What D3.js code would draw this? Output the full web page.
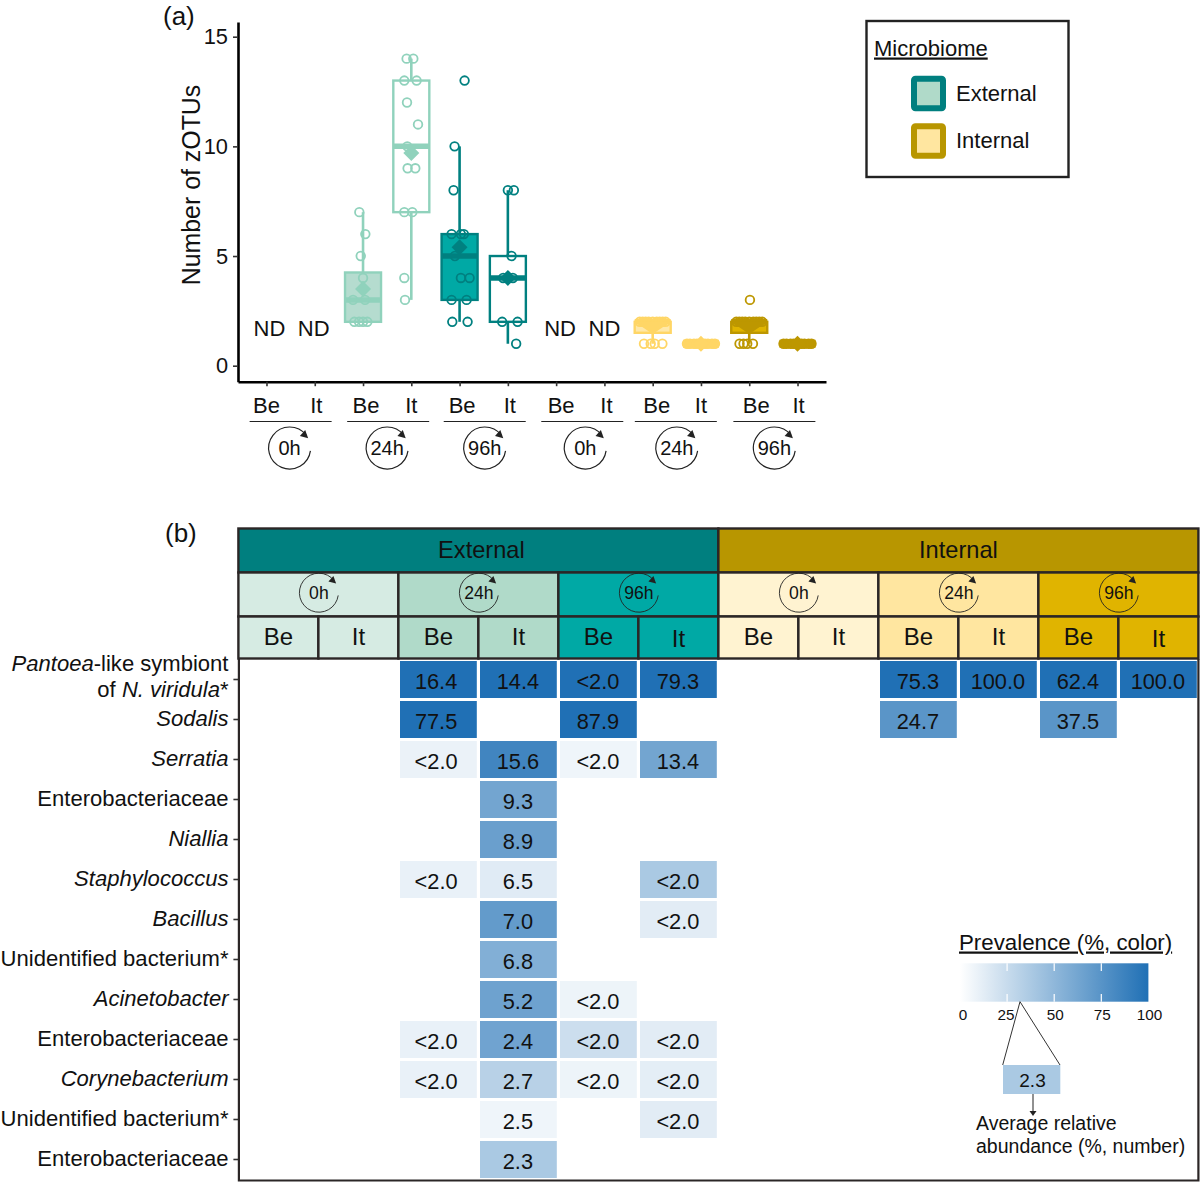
<!DOCTYPE html>
<html><head><meta charset="utf-8">
<script src="https://cdn.jsdelivr.net/npm/d3@7"></script>
<style>
html,body{margin:0;padding:0;background:#fff}
svg{display:block}
text{font-family:"Liberation Sans",Arial,sans-serif;fill:#111}
</style></head><body><svg id="c" width="1200" height="1182"></svg>
<script>
// ---------- panel (a) data ----------
const groups = ["E0Be","E0It","E24Be","E24It","E96Be","E96It","I0Be","I0It","I24Be","I24It","I96Be","I96It"];
const tissue = ["Be","It","Be","It","Be","It","Be","It","Be","It","Be","It"];
const times = ["0h","24h","96h","0h","24h","96h"];
const yTicks = [0,5,10,15];
const notDetected = ["E0Be","E0It","I0Be","I0It"];
const boxGroups = ["E24Be","E24It","E96Be","E96It","I24Be","I24It","I96Be","I96It"];
const q1 =      [2,   7,  3, 2, 1.5, 1, 1.5, 1];
const medians = [3,  10,  5, 4, 2,   1, 2,   1];
const q3 =      [4.25,13, 6, 5, 2,   1, 2,   1];
const whiskLo = [2,   3,  2, 1, 1,   1, 1,   1];
const whiskHi = [7,  14, 10, 8, 2,   1, 2,   1];
const means =   [3.5,9.7,5.4,4, 1.7, 1, 1.7, 1];
const strokes = ["#90d2bc","#90d2bc","#008080","#008080","#ffd666","#ffd666","#bd9700","#bd9700"];
const fills =   ["#b5dccf","#ffffff","#00a9a5","#ffffff","#ffe8a8","#ffd666","#dfb400","#bd9700"];
// observed counts, and horizontal jitter of each observation
const obsE24Be = [7,6,5,4,3,3,2,2,2,2];
const jitE24Be = [-3.7,2.3,-2.3,0,-10,2,-8.7,-4,0,4.3];
const obsE24It = [14,14,13,13,12,11,10,9,9,7,7,4,3];
const jitE24It = [-4.7,2,-7,5.3,-4.3,6.7,-4,-3.7,4,-7,1,-7,-6.3];
const obsE96Be = [13,10,8,6,6,6,5,4,4,3,3,2,2];
const jitE96Be = [5,-5,-6,-8,1.3,4.3,-4.7,1.3,10,-8,7,-7.3,8];
const obsE96It = [8,8,5,4,4,4,2,2,1];
const jitE96It = [0,6,3.7,-4.7,0,5,-5.7,9.7,8.3];
const obsI24Be = [2,2,2,2,2,2,2,2,2,1,1,1,1];
const jitI24Be = [-13,-10,-7,-4,0,4,7,10,13,-8.7,-2,2,9.7];
const obsI24It = [1,1,1,1,1,1,1,1,1];
const jitI24It = [-14,-11,-7,-4,0,4,7,11,14];
const obsI96Be = [3,2,2,2,2,2,2,2,2,2,1,1,1,1];
const jitI96Be = [0.7,-13,-10,-7,-4,0,4,7,10,13,-9.7,-5.7,-2,3.7];
const obsI96It = [1,1,1,1,1,1,1,1,1];
const jitI96It = [-14,-11,-7,-4,0,4,7,11,14];
const observations = [obsE24Be,obsE24It,obsE96Be,obsE96It,obsI24Be,obsI24It,obsI96Be,obsI96It];
const jitters = [jitE24Be,jitE24It,jitE96Be,jitE96It,jitI24Be,jitI24It,jitI96Be,jitI96It];

// ---------- panel (b) data ----------
const rowNames = ["Pantoea","Sodalis","Serratia","Entero1","Niallia","Staphylococcus","Bacillus","Unid1","Acinetobacter","Entero2","Corynebacterium","Unid2","Entero3"];
const rowLabels = ["","Sodalis","Serratia","Enterobacteriaceae","Niallia","Staphylococcus","Bacillus","Unidentified bacterium*","Acinetobacter","Enterobacteriaceae","Corynebacterium","Unidentified bacterium*","Enterobacteriaceae"];
const rowItalic = [0,1,1,0,1,1,1,0,1,0,1,0,0];
const abundance = [
 [null,null,"16.4","14.4","<2.0","79.3",null,null,"75.3","100.0","62.4","100.0"],
 [null,null,"77.5",null,"87.9",null,null,null,"24.7",null,"37.5",null],
 [null,null,"<2.0","15.6","<2.0","13.4",null,null,null,null,null,null],
 [null,null,null,"9.3",null,null,null,null,null,null,null,null],
 [null,null,null,"8.9",null,null,null,null,null,null,null,null],
 [null,null,"<2.0","6.5",null,"<2.0",null,null,null,null,null,null],
 [null,null,null,"7.0",null,"<2.0",null,null,null,null,null,null],
 [null,null,null,"6.8",null,null,null,null,null,null,null,null],
 [null,null,null,"5.2","<2.0",null,null,null,null,null,null,null],
 [null,null,"<2.0","2.4","<2.0","<2.0",null,null,null,null,null,null],
 [null,null,"<2.0","2.7","<2.0","<2.0",null,null,null,null,null,null],
 [null,null,null,"2.5",null,"<2.0",null,null,null,null,null,null],
 [null,null,null,"2.3",null,null,null,null,null,null,null,null]
];
const prevalence = [
 [0,0,100,100,100,100,0,0,100,100,100,100],
 [0,0,100,0,100,0,0,0,74,0,74,0],
 [0,0,9,85,7,63,0,0,0,0,0,0],
 [0,0,0,63,0,0,0,0,0,0,0,0],
 [0,0,0,67,0,0,0,0,0,0,0,0],
 [0,0,10,14,0,38,0,0,0,0,0,0],
 [0,0,0,70,0,13,0,0,0,0,0,0],
 [0,0,0,56,0,0,0,0,0,0,0,0],
 [0,0,0,65,8,0,0,0,0,0,0,0],
 [0,0,10,64,23,13,0,0,0,0,0,0],
 [0,0,10,32,8,12,0,0,0,0,0,0],
 [0,0,0,7,0,13,0,0,0,0,0,0],
 [0,0,0,38,0,0,0,0,0,0,0,0]
];
const microbiomes = ["External","Internal"];
const headerTimeFill = ["#d6ebe3","#b0dac9","#00a9a5","#fff3d1","#ffe6a0","#e0b400"];
const headerFill = ["#007f7f","#b89600"];
const prevTicks = [0,25,50,75,100];
const exampleValue = "2.3", examplePrev = 38;

// ---------- drawing ----------
const svg = d3.select("#c");
function T(g,x,y,s,size,anchor){
  return g.append("text").attr("x",x).attr("y",y).attr("font-size",size).attr("text-anchor",anchor||"middle").text(s);
}
function clock(g,cx,cy,r,label,fs,sw){
  const a0=98*Math.PI/180,a1=(360+52)*Math.PI/180;
  const n=d3.path();
  n.arc(cx,cy,r,a0-Math.PI/2,a1-Math.PI/2,false);
  g.append("path").attr("d",n.toString()).attr("fill","none").attr("stroke","#222").attr("stroke-width",sw);
  const tipA=62*Math.PI/180, tx=cx+r*Math.sin(tipA), ty=cy-r*Math.cos(tipA);
  const headA=42*Math.PI/180, dx=Math.cos(headA), dy=Math.sin(headA), h=r*0.36, w=r*0.19;
  g.append("path").attr("d",`M${tx},${ty}L${tx-h*dx-w*dy},${ty-h*dy+w*dx}L${tx-h*dx+w*dy},${ty-h*dy-w*dx}Z`).attr("fill","#222");
  T(g,cx,cy+fs*0.36,label,fs);
}

// panel a
const pa = svg.append("g");
T(pa,163,25,"(a)",26,"start");
const y = d3.scaleLinear().domain([-0.73,15.67]).range([381.7,22]);
const x = d3.scalePoint().domain(groups).range([238,826]).padding(0.59);
const yAx = pa.append("g").attr("transform","translate(238,0)").call(d3.axisLeft(y).tickValues(yTicks).tickSize(5).tickSizeOuter(0).tickPadding(5));
const xAx = pa.append("g").attr("transform","translate(0,381.7)").call(d3.axisBottom(x).tickSize(4.5).tickSizeOuter(0).tickFormat(""));
[yAx,xAx].forEach(a=>{
  a.select(".domain").attr("stroke","#000").attr("stroke-width",2.6);
  a.selectAll(".tick line").attr("stroke","#333").attr("stroke-width",1.6);
});
yAx.selectAll(".tick text").attr("font-size",21.8).attr("fill","#222").attr("font-family","Liberation Sans");
pa.append("text").attr("transform","translate(200,185) rotate(-90)").attr("text-anchor","middle").attr("font-size",24.9).text("Number of zOTUs");

notDetected.forEach((g,i)=>T(pa,x(g)+[3,-1,4,0][i],335.5,"ND",22));

const boxW = 36;
boxGroups.forEach((g,i)=>{
  const cx=x(g), col=strokes[i], gg=pa.append("g");
  const flat=q1[i]===q3[i], collapsed=q3[i]===medians[i];
  gg.append("line").attr("x1",cx).attr("x2",cx).attr("y1",y(whiskLo[i])).attr("y2",y(whiskHi[i])).attr("stroke",col).attr("stroke-width",2.6);
  gg.append("rect").attr("x",cx-boxW/2).attr("width",boxW).attr("y",y(q3[i])).attr("height",y(q1[i])-y(q3[i])).attr("fill",fills[i]).attr("stroke",col).attr("stroke-width",2.4);
  gg.append("line").attr("x1",cx-boxW/2).attr("x2",cx+boxW/2).attr("y1",y(medians[i])).attr("y2",y(medians[i])).attr("stroke",col).attr("stroke-width",flat?8:5.5);
  observations[i].forEach((v,k)=>{
    gg.append("circle").attr("cx",cx+jitters[i][k]).attr("cy",y(v)).attr("r",4.3).attr("fill","none").attr("stroke",col).attr("stroke-width",1.8);
  });
  if(collapsed && !flat){
    // median sits on the box top: the mean marker merges with it into a wedge
    gg.append("path").attr("d",`M${cx-boxW/2},${y(medians[i])}L${cx+boxW/2},${y(medians[i])}L${cx+2},${y(q1[i])}L${cx-2},${y(q1[i])}Z`).attr("fill",col);
  } else {
    gg.append("path").attr("transform",`translate(${cx},${y(means[i])})`).attr("d","M0,-8L8,0L0,8L-8,0Z").attr("fill",col);
  }
});

const labelNudge=[0,1.5,3,0,2.5,2,5,2,4,0,7,1];
groups.forEach((g,i)=>T(pa,x(g)+labelNudge[i],412.5,tissue[i],22));
const lineNudge=[0,1,1,2,-1,1], clockNudge=[-1,0,1,5,0,1];
times.forEach((t,i)=>{
  const m=(x(groups[i*2])+x(groups[i*2+1]))/2;
  pa.append("line").attr("x1",m+lineNudge[i]-41).attr("x2",m+lineNudge[i]+41).attr("y1",421.5).attr("y2",421.5).attr("stroke","#222").attr("stroke-width",1.2);
  clock(pa,m+clockNudge[i],448,21,t,20,1.2);
});

// microbiome legend
const lg=svg.append("g");
lg.append("rect").attr("x",866.5).attr("y",21).attr("width",202).attr("height",156).attr("fill","#fff").attr("stroke","#222").attr("stroke-width",2.4);
T(lg,874,55.5,"Microbiome",22,"start").attr("text-decoration","underline");
microbiomes.forEach((m,i)=>{
  const yy=[78.7,126.3][i];
  lg.append("rect").attr("x",914).attr("y",yy).attr("width",29).attr("height",29.5).attr("rx",1.5).attr("fill",[ "#b0dac9","#ffe6a0"][i]).attr("stroke",headerFill[i]).attr("stroke-width",6);
  T(lg,956,yy+22,m,22,"start");
});

// panel b
const pb=svg.append("g");
T(pb,165,541.5,"(b)",26,"start");
const hdrX=d3.scaleBand().domain(groups).range([238.4,1198.4]);
const cellX=d3.scaleBand().domain(groups).range([238.4,1198.4]).paddingInner(0.04).paddingOuter(0.02);
const rowY=d3.scaleBand().domain(rowNames).range([659.5,1179.5]).paddingInner(0.075).paddingOuter(0.0375);
const color=d3.scaleLinear().domain([0,100]).range(["#ffffff","#2070b5"]);
const STK="#2b2626";

// heat cells
rowNames.forEach((r,ri)=>groups.forEach((g,ci)=>{
  const v=abundance[ri][ci];
  if(v===null) return;
  pb.append("rect").attr("x",cellX(g)).attr("y",rowY(r)).attr("width",cellX.bandwidth()).attr("height",rowY.bandwidth()).attr("fill",color(prevalence[ri][ci]));
  T(pb,cellX(g)+cellX.bandwidth()/2-(g==="E24Be"?2.3:0.5),rowY(r)+rowY.bandwidth()/2+9,v,21.8);
}));

// row axis and frame
const rowAx=pb.append("g").attr("transform","translate(238.4,0)").call(d3.axisLeft(rowY).tickSize(5).tickSizeOuter(0).tickFormat(""));
rowAx.select(".domain").remove();
rowAx.selectAll(".tick line").attr("stroke","#333").attr("stroke-width",1.6);
pb.append("path").attr("d","M238.9,659V1180.5H1198.4V659").attr("fill","none").attr("stroke",STK).attr("stroke-width",2.2);

rowLabels.forEach((l,i)=>{
  if(!l) return;
  T(pb,228.5,rowY(rowNames[i])+rowY.bandwidth()/2+6.5,l,22.05,"end").attr("font-style",rowItalic[i]?"italic":"normal");
});
const p1=T(pb,228.5,670.5,"",22.05,"end");
p1.append("tspan").attr("font-style","italic").text("Pantoea");
p1.append("tspan").text("-like symbiont");
const p2=T(pb,228.5,697,"",22.05,"end");
p2.append("tspan").text("of ");
p2.append("tspan").attr("font-style","italic").text("N. viridula");
p2.append("tspan").text("*");

// headers
const rect=(x0,y0,w,h,f)=>pb.append("rect").attr("x",x0).attr("y",y0).attr("width",w).attr("height",h).attr("fill",f).attr("stroke",STK).attr("stroke-width",2.4);
microbiomes.forEach((m,i)=>{
  const x0=hdrX(groups[i*6]);
  rect(x0,528.5,hdrX.bandwidth()*6,44,headerFill[i]);
  T(pb,x0+hdrX.bandwidth()*3+(i?0:3),557.5,m,23.6);
});
times.forEach((t,i)=>{
  const x0=hdrX(groups[i*2]);
  rect(x0,572.5,hdrX.bandwidth()*2,44,headerTimeFill[i]);
});
groups.forEach((g,i)=>{
  rect(hdrX(g),616.5,hdrX.bandwidth(),42,headerTimeFill[Math.floor(i/2)]);
  T(pb,hdrX(g)+hdrX.bandwidth()/2,(i===5||i===11)?646.5:644.5,tissue[i],24);
});
times.forEach((t,i)=>{
  clock(pb,hdrX(groups[i*2+1])+0.5,592.7,19.5,t,17.6,0.9);
});

// prevalence legend
const pl=svg.append("g");
T(pl,959,949.5,"Prevalence (%, color)",22.3,"start").attr("text-decoration","underline");
const lx=d3.scaleLinear().domain([0,100]).range([960,1148.4]);
const defs=svg.append("defs");
const grad=defs.append("linearGradient").attr("id","pg");
[0,100].forEach(v=>grad.append("stop").attr("offset",v+"%").attr("stop-color",color(v)));
pl.append("rect").attr("x",lx(0)).attr("y",963.3).attr("width",lx(100)-lx(0)).attr("height",38.4).attr("fill","url(#pg)");
prevTicks.slice(1,4).forEach(v=>{
  pl.append("line").attr("x1",lx(v)).attr("x2",lx(v)).attr("y1",963.3).attr("y2",971).attr("stroke","#fff").attr("stroke-width",1.2);
  pl.append("line").attr("x1",lx(v)).attr("x2",lx(v)).attr("y1",994).attr("y2",1001.7).attr("stroke","#fff").attr("stroke-width",1.2);
});
const tickNudge=[3,-1,1,1,1];
prevTicks.forEach((v,i)=>T(pl,lx(v)+tickNudge[i],1019.5,String(v),15.3));
pl.append("path").attr("d","M1002.7,1065L1020,1001.7L1060,1065").attr("fill","none").attr("stroke","#333").attr("stroke-width",1);
pl.append("rect").attr("x",1003).attr("y",1065).attr("width",57.3).attr("height",29).attr("fill",color(examplePrev));
T(pl,1032.5,1086.5,exampleValue,19);
pl.append("line").attr("x1",1033).attr("x2",1033).attr("y1",1094).attr("y2",1112).attr("stroke","#222").attr("stroke-width",1);
pl.append("path").attr("d","M1029.5,1111L1036.5,1111L1033,1116Z").attr("fill","#222");
T(pl,976,1130,"Average relative",19.5,"start");
T(pl,976,1153,"abundance (%, number)",19.5,"start");
</script></body></html>
